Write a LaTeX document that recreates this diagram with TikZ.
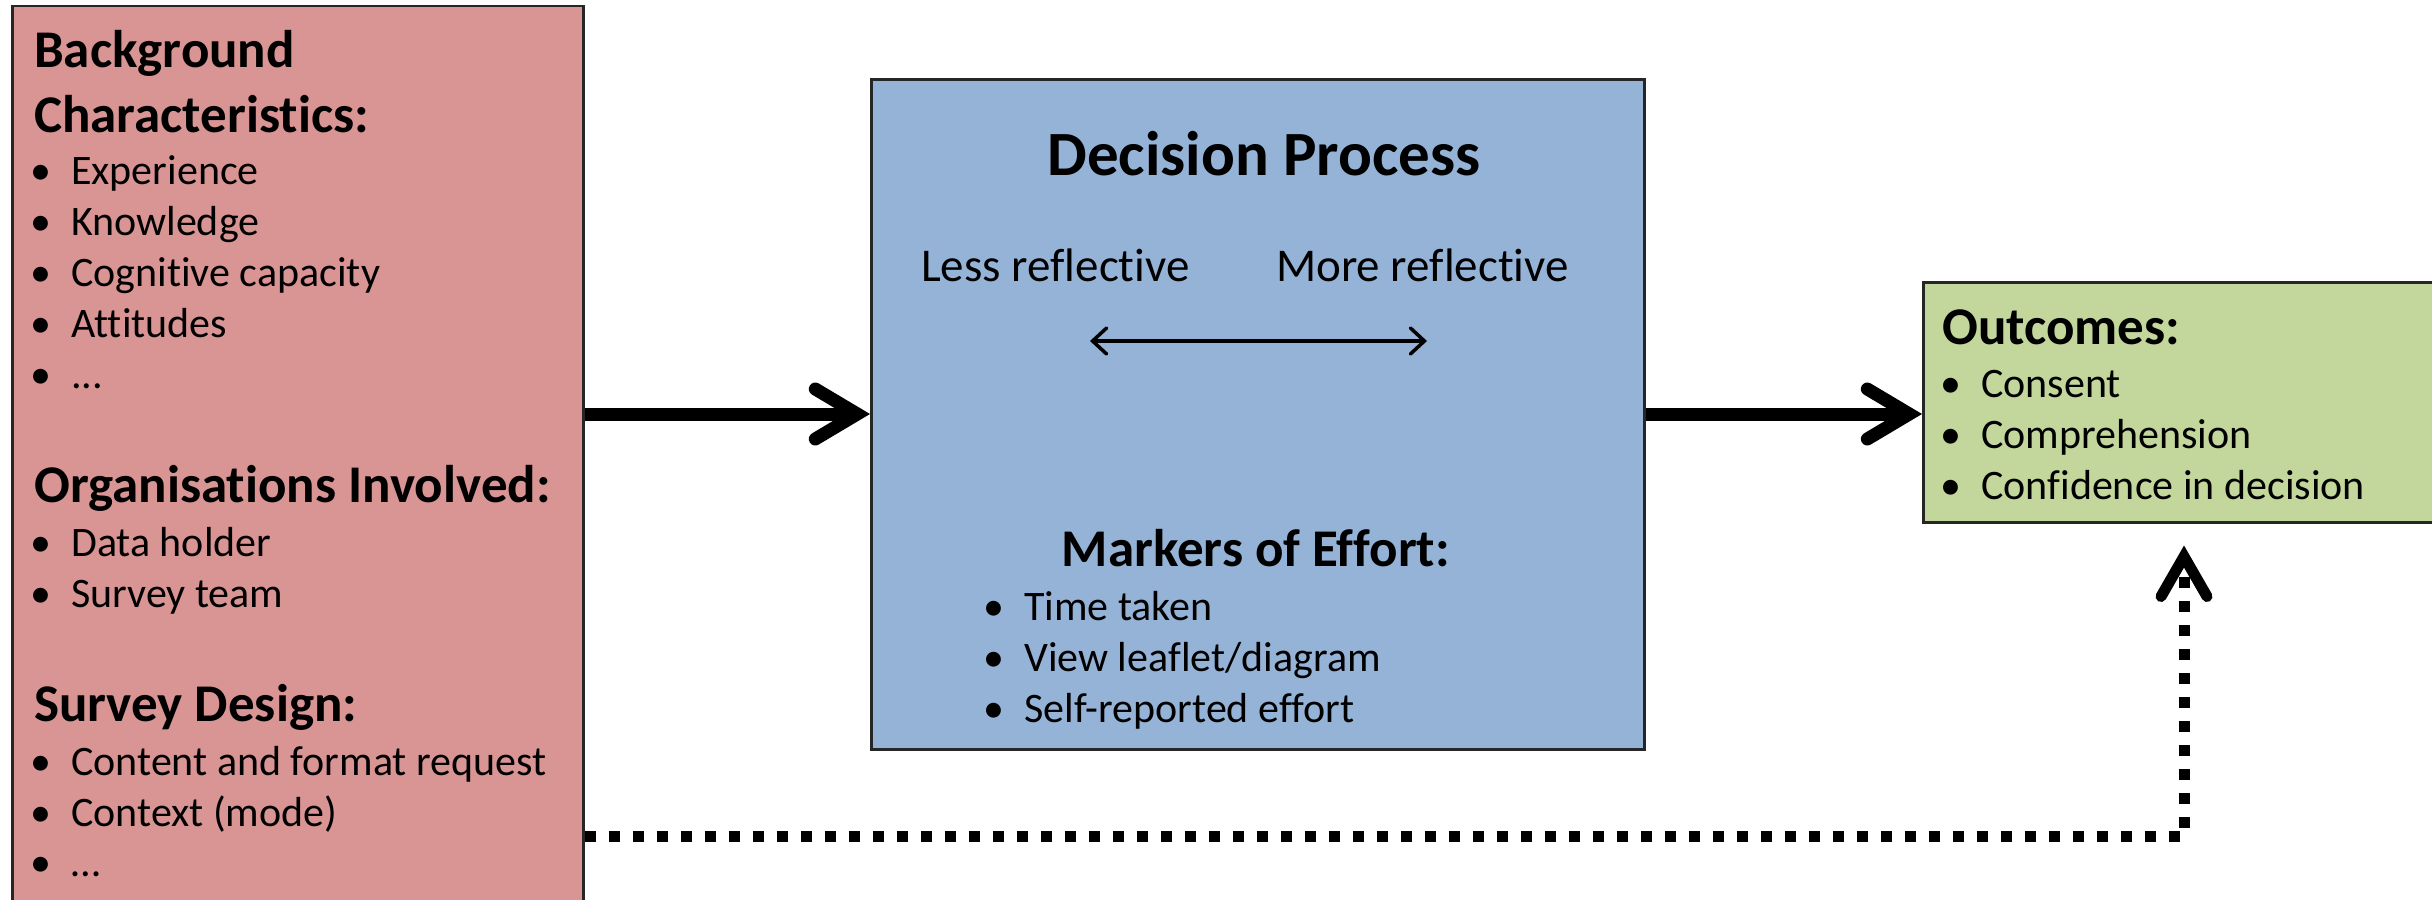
\documentclass[tikz,border=0pt]{standalone}
\usepackage{fontspec}
\setmainfont{Carlito}[Ligatures={NoCommon,NoContextual}]
\usetikzlibrary{arrows.meta}
\definecolor{pinkbox}{HTML}{D99594}
\definecolor{bluebox}{HTML}{95B3D7}
\definecolor{greenbox}{HTML}{C3D69B}
\newcommand{\bodyfont}{\fontsize{42}{51}\selectfont}
\newcommand{\headfont}{\fontsize{53}{65}\selectfont\bfseries}
\newcommand{\titlefont}{\fontsize{63}{76}\selectfont\bfseries}
\newcommand{\midfont}{\fontsize{47}{57}\selectfont}
\newcommand{\bul}{\makebox[41pt][l]{•}}
\tikzset{
  panel/.style={draw=black!85, line width=2.5pt, inner sep=0pt, anchor=north west},
  hd/.style={font=\headfont, anchor=base west, inner sep=0pt},
  itm/.style={font=\bodyfont, anchor=base west, inner sep=0pt},
  bigarrow/.style={line width=13pt, -{Straight Barb[length=42pt,width=50pt,line cap=round]}},
  dotarrow/.style={line width=11pt, dash pattern=on 11pt off 13pt, -{Straight Barb[length=40pt,width=46pt,line cap=round]}},
  thinarrow/.style={line width=3.5pt, {Straight Barb[length=14pt,width=26pt,line cap=round]}-{Straight Barb[length=14pt,width=26pt,line cap=round]}}
}
\begin{document}
\begin{tikzpicture}[x=1pt,y=-1pt]
\clip (0,0) rectangle (2432,899);
\fill[white] (0,0) rectangle (2432,899);
% panels
\node[panel, fill=pinkbox, minimum width=571pt, minimum height=910pt] (left) at (11,5) {};
\node[panel, fill=bluebox, minimum width=773pt, minimum height=670pt] (mid) at (870,78) {};
\node[panel, fill=greenbox, minimum width=530pt, minimum height=240pt] (out) at (1922,281) {};
% left texts
\node[hd] (h1a) at (34,67) {Background};
\node[hd] (h1b) at (34,132) {Characteristics:};
\node[itm] (l1) at (30,184) {\bul Experience};
\node[itm] (l2) at (30,235) {\bul Knowledge};
\node[itm] (l3) at (30,286) {\bul Cognitive capacity};
\node[itm] (l4) at (30,337) {\bul Attitudes};
\node[itm] (l5) at (30,388) {\bul ...};
\node[hd] (h2) at (34,502) {Organisations Involved:};
\node[itm] (l6) at (30,556) {\bul Data holder};
\node[itm] (l7) at (30,607) {\bul Survey team};
\node[hd] (h3) at (34,721) {Survey Design:};
\node[itm] (l8) at (30,775) {\bul Content and format request};
\node[itm] (l9) at (30,826) {\bul Context (mode)};
\node[itm] (l10) at (30,876) {\bul …};
% middle texts
\node[font=\titlefont, anchor=base, inner sep=0pt] (title) at (1264,175) {Decision Process};
\node[font=\midfont, anchor=base west, inner sep=0pt] (less) at (921,281) {Less reflective};
\node[font=\midfont, anchor=base west, inner sep=0pt] (more) at (1276,281) {More reflective};
\coordinate (sl) at (1090,341);
\coordinate (sr) at (1427,341);
\draw[thinarrow] (sl) -- (sr);
\node[font=\headfont, anchor=base, inner sep=0pt] (markers) at (1256,566) {Markers of Effort:};
\node[itm] (m1) at (983,620) {\bul Time taken};
\node[itm] (m2) at (983,671) {\bul View leaflet/diagram};
\node[itm] (m3) at (983,722) {\bul Self-reported effort};
% outcome texts
\node[hd] (oh) at (1942,344) {Outcomes:};
\node[itm] (o1) at (1940,397) {\bul Consent};
\node[itm] (o2) at (1940,448) {\bul Comprehension};
\node[itm] (o3) at (1940,499) {\bul Confidence in decision};
% connectors
\coordinate (ya) at (0,414);
\coordinate (yd) at (0,836);
\coordinate (corner) at (2184,836);
\draw[bigarrow] (left.east |- ya) -- (mid.west |- ya);
\draw[bigarrow] (mid.east |- ya) -- (out.west |- ya);
\draw[dotarrow] (left.east |- yd) -- (corner) -- ([yshift=-22pt]out.south -| corner);
\end{tikzpicture}
\end{document}
